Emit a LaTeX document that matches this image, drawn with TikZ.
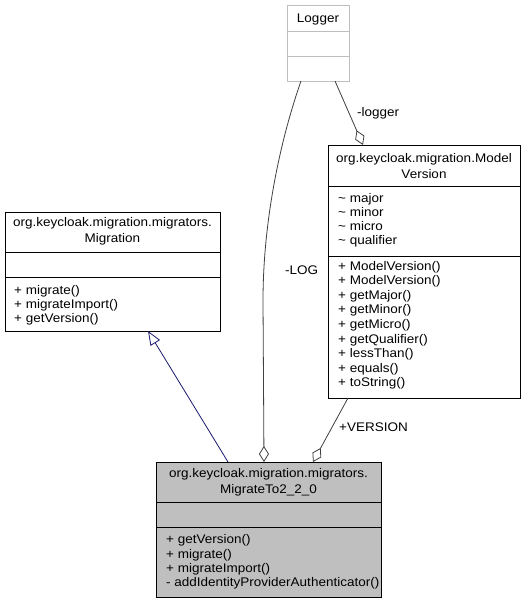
\documentclass[tikz,border=0pt]{standalone}
\usepackage{fontspec}
\setmainfont{Liberation Sans}[FakeStretch=1.08]
\usetikzlibrary{arrows.meta}
\definecolor{edgegray}{HTML}{404040}
\definecolor{genblue}{HTML}{191970}
\definecolor{classgray}{HTML}{BFBFBF}
\tikzset{
  classbox/.style={draw=black, line width=0.9pt, inner sep=0pt, outer sep=0pt, anchor=north west},
  sepline/.style={draw=black, line width=0.9pt},
  titletext/.style={anchor=base, align=center, inner sep=0pt, font=\fontsize{12.5}{16}\selectfont},
  membertext/.style={anchor=base west, align=left, inner sep=0pt, font=\fontsize{12.5}{14.4}\selectfont},
  labeltext/.style={anchor=base west, inner sep=0pt, font=\fontsize{12.5}{14.4}\selectfont},
  assoc/.style={draw=edgegray, line width=0.8pt, -{Diamond[open, length=16pt, width=10pt, line width=0.8pt]}},
  generalize/.style={draw=genblue, line width=0.8pt, -{Triangle[open, length=14pt, width=11pt, line width=0.8pt]}}
}
\begin{document}
\begin{tikzpicture}[x=1pt,y=-1pt]
\useasboundingbox (0,0) rectangle (526,603);
\fill[white] (0,0) rectangle (526,603);

% Logger
\node[classbox, draw=classgray, minimum width=62pt, minimum height=76pt] (logger) at (287,5) {};
\draw[draw=classgray, line width=0.9pt] (287,31) -- (349,31);
\draw[draw=classgray, line width=0.9pt] (287,56) -- (349,56);
\node[titletext] (loggertitle) at (318,22.5) {Logger};

% ModelVersion
\node[classbox, minimum width=192pt, minimum height=253pt] (mv) at (328,145) {};
\draw[sepline] (328,186) -- (520,186);
\draw[sepline] (328,256) -- (520,256);
\node[titletext, font=\fontsize{12.5}{15.5}\selectfont] (mvtitle) at (424,178) {org.keycloak.migration.Model\\Version};
\node[membertext, font=\fontsize{12.5}{14}\selectfont] (mvattr) at (338,244.5) {\textasciitilde{} major\\\textasciitilde{} minor\\\textasciitilde{} micro\\\textasciitilde{} qualifier};
\node[membertext, font=\fontsize{12.5}{14.6}\selectfont] (mvops) at (338,386.8) {+ ModelVersion()\\+ ModelVersion()\\+ getMajor()\\+ getMinor()\\+ getMicro()\\+ getQualifier()\\+ lessThan()\\+ equals()\\+ toString()};

% Migration
\node[classbox, minimum width=215pt, minimum height=119pt] (mig) at (5,212) {};
\draw[sepline] (5,252) -- (220,252);
\draw[sepline] (5,277) -- (220,277);
\node[titletext] (migtitle) at (112.5,242.5) {org.keycloak.migration.migrators.\\Migration};
\node[membertext] (migops) at (14,322.8) {+ migrate()\\+ migrateImport()\\+ getVersion()};

% MigrateTo2_2_0
\node[classbox, fill=classgray, minimum width=225pt, minimum height=135pt] (mt) at (156,462) {};
\draw[sepline] (156,502) -- (381,502);
\draw[sepline] (156,527) -- (381,527);
\node[titletext] (mttitle) at (268.5,493.5) {org.keycloak.migration.migrators.\\MigrateTo2\_2\_0};
\node[membertext] (mtops) at (166,586.9) {+ getVersion()\\+ migrate()\\+ migrateImport()\\- addIdentityProviderAuthenticator()};

% connectors
\draw[generalize] ([xshift=-40.5pt]mt.north) -- ([xshift=35.5pt]mig.south);
\draw[assoc] ([xshift=-17pt]logger.south) .. controls ([xshift=-38pt,yshift=-60pt]logger.south) and ([xshift=-55pt,yshift=-140pt]logger.south) .. ([xshift=-55pt,yshift=-220pt]logger.south) -- ([xshift=-4.5pt]mt.north);
\draw[assoc] ([xshift=17pt]logger.south) -- ([xshift=-61pt]mv.north);
\draw[assoc] ([xshift=-76pt]mv.south) -- ([xshift=44.5pt]mt.north);

% labels
\node[labeltext] (lbllogger) at (357,116.5) {-logger};
\node[labeltext] (lbllog) at (285,274) {-LOG};
\node[labeltext] (lblversion) at (339,431.5) {+VERSION};
\end{tikzpicture}
\end{document}
